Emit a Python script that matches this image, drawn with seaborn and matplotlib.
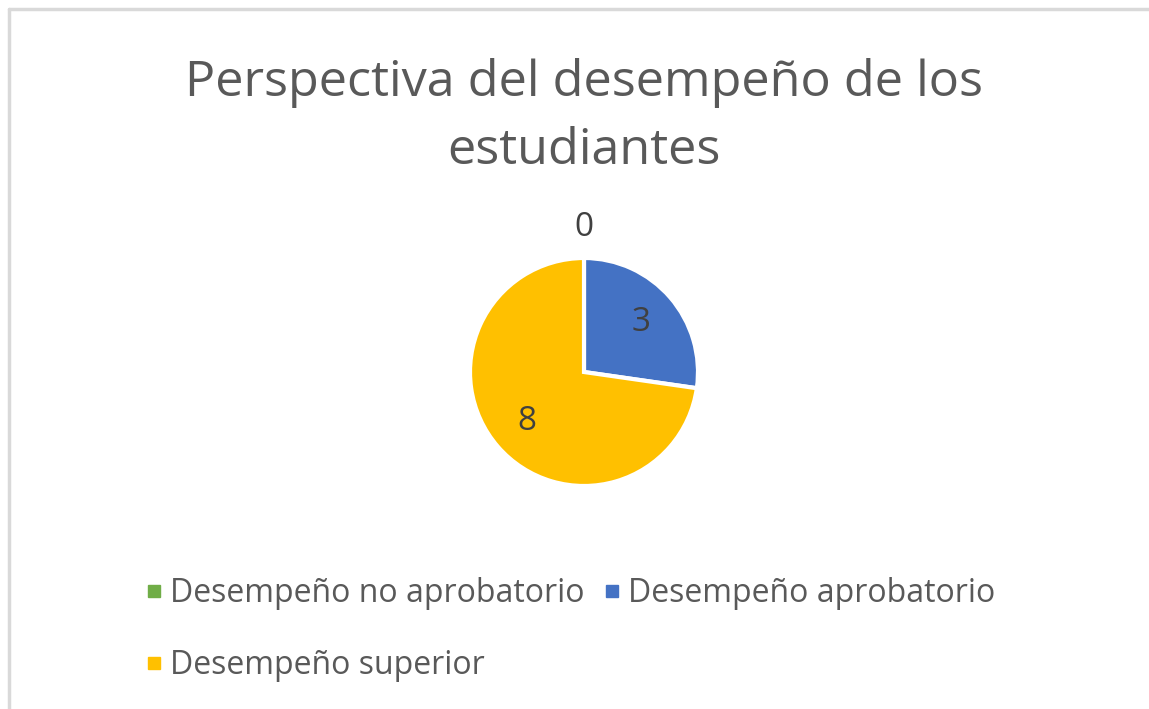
import matplotlib
matplotlib.use("Agg")
import matplotlib.pyplot as plt
from matplotlib.lines import Line2D
import numpy as np
import seaborn as sns

# data
categories = ['Desempeño no aprobatorio', 'Desempeño aprobatorio', 'Desempeño superior']
values = [0, 3, 8]
colors = ['#70AD47', '#4472C4', '#FFC000']
title = 'Perspectiva del desempeño de los\nestudiantes'

sns.set_theme(style='white')
plt.rcParams['font.family'] = ['Open Sans', 'DejaVu Sans']

W, H = 1149, 709
fig = plt.figure(figsize=(W / 100, H / 100), dpi=100)
fig.patch.set_facecolor('white')

# light grey frame (top and left edges visible in the reference)
frame_color = '#d9d9d9'
fig.add_artist(Line2D([8.5 / W, 1.0], [1 - 8.5 / H, 1 - 8.5 / H],
                      transform=fig.transFigure, color=frame_color, lw=2.5))
fig.add_artist(Line2D([8.5 / W, 8.5 / W], [0.0, 1 - 8.5 / H],
                      transform=fig.transFigure, color=frame_color, lw=2.5))

fig.text(584 / W, 1 - 117 / H, title, ha='center', va='center',
         fontsize=36.3, color='#595959', linespacing=1.52)

# pie axes: centre ~ (584, 372), radius ~112 px
box = 300
cx, cy = 584, 372
ax = fig.add_axes([(cx - box / 2) / W, (H - cy - box / 2) / H, box / W, box / H])

wedges, _ = ax.pie(values, colors=colors, startangle=90, counterclock=False,
                   radius=1.0, wedgeprops=dict(edgecolor='white', linewidth=3))
lim = box / 2 / 114
ax.set_xlim(-lim, lim)
ax.set_ylim(-lim, lim)
ax.set_aspect('equal')
ax.axis('off')

for w, v in zip(wedges, values):
    ang = np.deg2rad((w.theta1 + w.theta2) / 2)
    d = 0.66 if v > 0 else 1.27
    ax.text(d * np.cos(ang), d * np.sin(ang), str(v), ha='center', va='center',
            fontsize=24, color='#404040')

# legend: row 1 = first two, row 2 = third
handles = [Line2D([0], [0], marker='s', linestyle='none', markersize=9,
                  markerfacecolor=c, markeredgecolor=c) for c in colors]
order = [0, 2, 1]
leg = fig.legend([handles[i] for i in order], [categories[i] for i in order],
                 ncol=2, loc='upper left', bbox_to_anchor=(130 / W, 1 - 561 / H),
                 frameon=False, fontsize=23, handlelength=0.5, handletextpad=0.25,
                 columnspacing=0.6, labelspacing=1.22, borderpad=0)
for t in leg.get_texts():
    t.set_color('#595959')

fig.savefig('out.png', dpi=100, facecolor='white')
